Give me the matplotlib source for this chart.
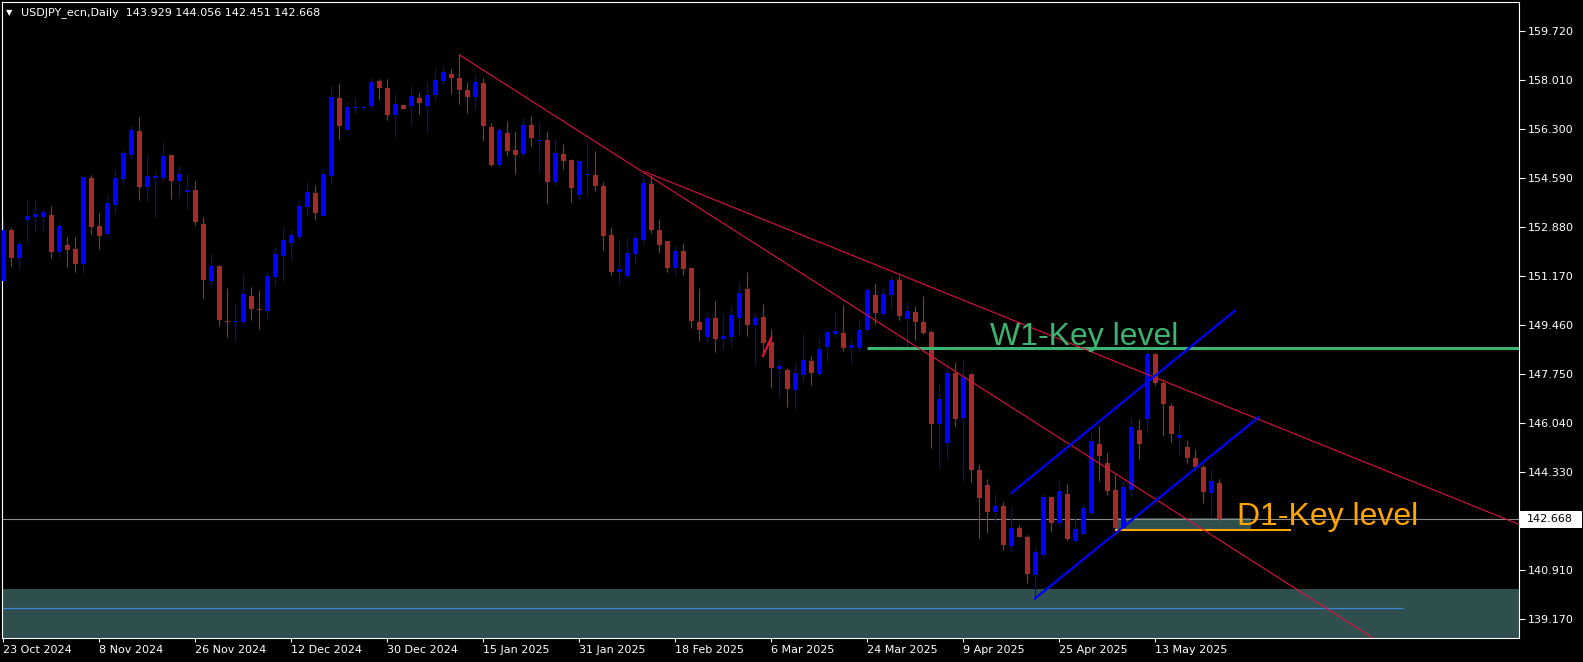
import numpy as np
import matplotlib.pyplot as plt
from matplotlib.patches import Rectangle
from matplotlib.transforms import blended_transform_factory

plt.rcParams.update({"font.family": "DejaVu Sans", "font.size": 8})

# ---- data ----
symbol_info = "USDJPY_ecn,Daily  143.929 144.056 142.451 142.668"
last_price = 142.668

opens = [151.00, 152.75, 151.80, 153.12, 153.22, 153.22, 153.29, 151.98, 152.24, 152.10,
         151.59, 154.58, 152.91, 152.64, 153.63, 154.55, 155.38, 156.22, 154.28, 154.59,
         154.59, 155.38, 154.49, 154.10, 154.16, 152.97, 151.00, 151.51, 149.58, 149.55,
         149.56, 150.46, 150.01, 149.94, 151.12, 151.87, 152.32, 152.52, 153.57, 154.06,
         153.26, 154.66, 157.37, 156.27, 157.04, 157.04, 157.10, 157.97, 157.72, 156.79,
         157.13, 157.10, 157.37, 157.10, 157.49, 157.97, 158.21, 158.07, 157.65, 157.42,
         157.90, 156.36, 155.04, 156.15, 155.56, 155.43, 156.43, 155.88, 155.91, 154.45,
         155.42, 155.21, 153.99, 154.69, 154.69, 154.30, 152.59, 151.31, 151.17, 151.94,
         152.43, 154.37, 152.77, 152.38, 151.45, 152.03, 151.44, 149.55, 149.04, 149.69,
         148.97, 149.03, 149.70, 150.71, 149.45, 149.73, 148.85, 147.91, 147.88, 147.18,
         147.70, 148.19, 147.74, 148.68, 149.13, 149.17, 148.65, 148.65, 149.27, 150.50,
         149.83, 150.50, 151.02, 149.66, 149.90, 149.55, 149.20, 145.99, 145.33, 147.77,
         146.20, 147.74, 144.39, 143.86, 142.92, 143.13, 141.73, 142.36, 142.05, 140.72,
         141.42, 143.44, 142.53, 143.55, 141.91, 142.15, 142.88, 145.29, 144.63, 143.69,
         142.36, 143.69, 145.78, 146.17, 148.44, 147.42, 146.62, 145.50, 145.19, 144.80,
         144.49, 143.58, 143.929]
highs = [153.18, 152.84, 152.39, 153.83, 153.83, 153.50, 153.60, 153.07, 152.51, 152.51,
         154.70, 154.69, 153.36, 153.95, 154.90, 155.59, 156.40, 156.71, 155.35, 154.79,
         155.87, 155.38, 155.00, 154.72, 154.48, 153.22, 151.93, 151.54, 150.74, 150.22,
         151.23, 150.77, 150.67, 151.34, 152.17, 152.84, 152.77, 153.78, 154.48, 154.34,
         154.86, 157.79, 157.90, 157.23, 157.37, 157.07, 158.07, 158.04, 158.04, 157.55,
         157.13, 157.83, 157.55, 157.93, 158.42, 158.53, 158.39, 158.91, 157.93, 158.18,
         158.07, 156.50, 156.36, 156.57, 156.22, 156.67, 156.75, 156.57, 156.22, 155.94,
         155.77, 155.24, 155.21, 155.87, 155.52, 154.44, 152.87, 152.42, 152.52, 152.59,
         154.76, 154.69, 153.15, 152.38, 152.22, 152.31, 151.44, 150.74, 149.87, 150.29,
         149.87, 150.15, 150.98, 151.30, 149.87, 150.18, 149.31, 148.19, 147.95, 148.09,
         149.17, 148.37, 148.99, 149.27, 149.94, 150.15, 148.96, 149.66, 150.74, 150.91,
         150.74, 151.16, 151.19, 150.25, 150.11, 150.46, 149.27, 147.42, 148.12, 148.16,
         148.26, 147.77, 144.60, 144.07, 143.58, 143.27, 143.06, 142.46, 142.12, 141.66,
         143.55, 143.44, 144.04, 143.90, 142.74, 143.20, 145.71, 145.92, 144.98, 144.25,
         144.00, 146.20, 146.17, 148.58, 148.46, 147.56, 146.72, 146.10, 145.43, 145.12,
         144.56, 144.39, 144.056]
lows = [150.95, 151.52, 151.42, 152.36, 152.71, 152.73, 151.80, 151.77, 151.49, 151.31,
        151.24, 152.64, 152.11, 152.57, 153.37, 154.31, 155.29, 153.82, 153.79, 153.23,
        154.49, 153.86, 153.93, 153.50, 152.95, 150.40, 150.82, 149.42, 149.04, 148.85,
        149.49, 149.63, 149.32, 149.65, 150.85, 150.95, 151.75, 152.43, 153.26, 153.12,
        153.24, 154.38, 155.92, 156.25, 156.86, 157.03, 157.03, 157.31, 156.62, 155.99,
        157.00, 156.41, 156.83, 156.20, 157.31, 157.87, 157.52, 157.17, 156.86, 157.00,
        155.88, 155.01, 154.94, 155.36, 154.73, 155.32, 155.71, 154.80, 153.68, 154.35,
        154.90, 153.75, 153.86, 153.96, 154.14, 152.08, 151.20, 150.89, 151.12, 151.60,
        152.32, 152.67, 151.96, 151.31, 151.20, 151.20, 149.35, 148.90, 148.80, 148.51,
        148.58, 148.68, 149.06, 149.06, 148.05, 148.34, 147.25, 146.90, 146.59, 146.48,
        147.50, 147.35, 147.67, 148.19, 149.03, 148.54, 148.12, 148.54, 149.24, 149.48,
        149.76, 150.01, 149.62, 148.68, 148.92, 149.13, 145.15, 144.49, 144.77, 145.92,
        143.97, 143.97, 142.01, 142.19, 142.57, 141.59, 141.56, 142.04, 140.44, 139.88,
        141.40, 142.22, 142.51, 141.94, 141.89, 142.12, 142.81, 143.99, 143.51, 142.29,
        142.29, 143.41, 144.77, 145.64, 147.35, 145.57, 145.36, 144.87, 144.63, 144.39,
        143.23, 142.74, 142.451]
closes = [152.75, 151.80, 152.28, 153.25, 153.32, 153.39, 151.98, 152.91, 152.08, 151.59,
          154.62, 152.88, 152.57, 153.71, 154.58, 155.45, 156.26, 154.28, 154.65, 154.65,
          155.35, 154.49, 154.72, 154.16, 153.05, 151.03, 151.51, 149.63, 149.55, 149.58,
          150.53, 150.02, 149.97, 151.16, 151.93, 152.42, 152.59, 153.60, 154.09, 153.36,
          154.72, 157.41, 156.41, 157.06, 157.06, 157.06, 157.93, 157.73, 156.79, 157.16,
          157.00, 157.44, 157.21, 157.48, 158.00, 158.28, 158.08, 157.66, 157.42, 157.93,
          156.41, 155.04, 156.26, 155.52, 155.38, 156.43, 155.99, 155.92, 154.45, 155.45,
          155.17, 154.23, 155.17, 154.72, 154.31, 152.57, 151.31, 151.40, 151.96, 152.49,
          154.41, 152.77, 152.25, 151.45, 152.03, 151.40, 149.60, 149.28, 149.69, 148.97,
          149.06, 149.80, 150.57, 149.45, 149.69, 148.82, 147.95, 148.02, 147.21, 147.77,
          148.23, 147.77, 148.61, 149.20, 149.24, 148.65, 148.75, 149.27, 150.67, 149.87,
          150.53, 151.02, 149.76, 149.94, 149.55, 149.17, 145.99, 146.86, 147.77, 146.17,
          147.63, 144.39, 143.41, 142.92, 143.13, 141.77, 142.36, 142.05, 140.75, 141.52,
          143.44, 142.53, 143.65, 141.98, 142.32, 143.06, 145.40, 144.87, 143.65, 142.36,
          143.79, 145.89, 145.29, 148.44, 147.42, 146.69, 145.64, 145.61, 144.80, 144.49,
          143.62, 144.00, 142.668]

date_ticks = [0, 12, 24, 36, 48, 60, 72, 84, 96, 108, 120, 132, 144]
date_labels = ["23 Oct 2024", "8 Nov 2024", "26 Nov 2024", "12 Dec 2024", "30 Dec 2024",
               "15 Jan 2025", "31 Jan 2025", "18 Feb 2025", "6 Mar 2025", "24 Mar 2025",
               "9 Apr 2025", "25 Apr 2025", "13 May 2025"]
price_ticks = [159.72, 158.01, 156.30, 154.59, 152.88, 151.17, 149.46, 147.75,
               146.04, 144.33, 140.91, 139.17]

# drawn objects (bar index, price)
w1_level = 148.63
w1_start = 107.9
d1_level = 142.30
d1_span = (138.9, 161.0)
d1_box = (138.9, 155.9, 142.30, 142.71)
zone_top = 140.23
zone_line = 139.57
zone_line_end = 175.0
trend_a = [(57.0, 158.88), (150.0, 142.30)]
trend_b = [(80.2, 154.80), (162.1, 145.57)]
chan_low = [(128.96, 139.90), (156.9, 146.225)]
chan_high = [(126.05, 143.59), (153.96, 149.95)]
red_mark = [(94.9, 148.34), (96.05, 149.04)]

# ---- figure ----
W, H = 1583, 662
fig = plt.figure(figsize=(W / 100, H / 100), dpi=100, facecolor="black")
ax = fig.add_axes([2 / W, 24 / H, 1517 / W, 636 / H])
ax.set_facecolor("black")

xmin, xmax = -0.16, 189.46
ax.set_xlim(xmin, xmax)
ax.set_ylim(138.52, 160.725)

o = np.array(opens); h = np.array(highs); l = np.array(lows); c = np.array(closes)
x = np.arange(len(o))
col = np.where(c >= o, "#0000FF", "#A52A2A")

# zones
ax.axhspan(130, zone_top, color="#2F4F4F", lw=0, zorder=0.5)
ax.hlines(zone_line, xmin, zone_line_end, color="#3A86D8", lw=0.9, zorder=1)
ax.add_patch(Rectangle((d1_box[0], d1_box[2]), d1_box[1] - d1_box[0], d1_box[3] - d1_box[2],
                       facecolor="#2F4F4F", edgecolor="none", zorder=0.8))
ax.axhline(last_price, color="#8C8C8C", lw=0.8, zorder=1.2)

# candles
ax.vlines(x, l, h, colors=col, lw=0.8, zorder=2)
ax.bar(x, np.maximum(np.abs(c - o), 0.035), bottom=np.minimum(o, c), width=0.62,
       color=col, linewidth=0, zorder=3)

# key levels
ax.hlines(w1_level, w1_start, xmax, color="#3CB371", lw=2.2, zorder=4)
ax.hlines(d1_level, d1_span[0], d1_span[1], color="#FFA500", lw=1.5, zorder=4)


def ray(pts):
    (x0, y0), (x1, y1) = pts
    k = (y1 - y0) / (x1 - x0)
    return [x0, xmax], [y0, y0 + k * (xmax - x0)]


for pts in (trend_a, trend_b):
    xs, ys = ray(pts)
    ax.plot(xs, ys, color="#DC143C", lw=0.8, zorder=5)

for pts in (chan_low, chan_high):
    ax.plot([p[0] for p in pts], [p[1] for p in pts], color="#0000FF", lw=1.6, zorder=5)

ax.plot([p[0] for p in red_mark], [p[1] for p in red_mark], color="#DC143C", lw=1.6,
        zorder=5, solid_capstyle="butt")

ax.text(123.3, 148.75, "W1-Key level", color="#3CB371", fontsize=23,
        family="Liberation Sans", va="baseline", ha="left", zorder=6)
ax.text(154.2, 142.46, "D1-Key level", color="#FFA500", fontsize=23,
        family="Liberation Sans", va="baseline", ha="left", zorder=6)

# axes styling
for s in ax.spines.values():
    s.set_color("white")
    s.set_linewidth(0.8)
ax.set_xticks(date_ticks)
ax.set_xticklabels(date_labels, ha="left")
ax.yaxis.tick_right()
ax.set_yticks(price_ticks)
ax.set_yticklabels([f"{v:.3f}" for v in price_ticks])
ax.tick_params(axis="x", direction="out", length=3, width=0.8, colors="white", pad=2,
               labelsize=8)
ax.tick_params(axis="y", direction="out", length=4, width=0.8, colors="white", pad=2,
               labelsize=8)

# current price tag on the price scale
blend = blended_transform_factory(fig.transFigure, ax.transData)
ax.add_patch(Rectangle((1520 / W, last_price - 0.3), 62 / W, 0.6, transform=blend,
                       facecolor="white", edgecolor="none", clip_on=False, zorder=10))
ax.text(1527 / W, last_price, f"{last_price:.3f}", transform=blend, color="black",
        fontsize=8, ha="left", va="center", clip_on=False, zorder=11)

# header
fig.text(6 / W, 1 - 13 / H, "\u25bc", color="white", fontsize=6, va="center")
fig.text(21 / W, 1 - 13 / H, symbol_info, color="white", fontsize=8, va="center")

fig.savefig("out.png", dpi=100, facecolor="black")
